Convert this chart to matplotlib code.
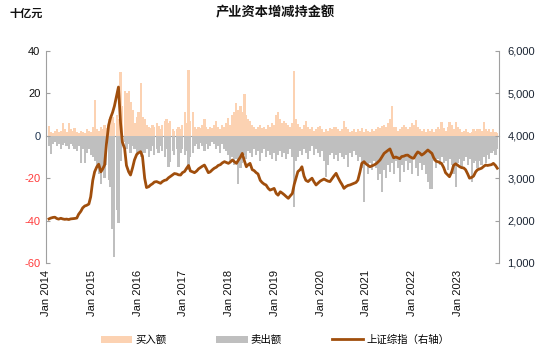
import numpy as np
import pandas as pd
import matplotlib
matplotlib.use('Agg')
import matplotlib.pyplot as plt
from matplotlib.ticker import FuncFormatter

plt.rcParams['font.family'] = ['Liberation Sans', 'Noto Sans CJK SC']

# semi-monthly data, Jan 2014 - May 2023 (10 bi-weekly points for 2023)
buy = (
    [4.5, 2, 1.5, 2.5, 3, 2, 2.5, 6, 3, 2, 6, 3, 2.5, 3.5, 2, 1.5, 2.5, 2, 1.5, 3, 2.5, 2, 4, 17]
    + [3, 2.5, 4, 3, 5, 3.5, 8, 7, 9, 6, 10, 8, 30, 14, 21, 20, 21, 16, 12, 6, 9, 11, 25, 9]
    + [8, 5, 4, 3.5, 5, 4, 6, 4.5, 3, 5, 7, 8, 6, 7, 3, 2.5, 3, 4, 3, 5, 11, 6, 31, 7]
    + [11, 4, 3, 4, 3.5, 5, 7.8, 4, 3, 4, 3.5, 5, 7, 4, 3, 5, 4, 6, 8.6, 5, 10, 11, 15.7, 12]
    + [14, 11, 19.6, 10, 8, 7, 5, 4, 3, 4, 5, 3.5, 4, 3, 5, 4, 6, 5, 10, 11, 8, 6, 7, 6]
    + [5, 4, 6, 30.7, 8, 5.5, 4, 3, 5, 7, 4, 3, 4, 2.5, 3, 4, 4.7, 3, 2, 3, 2.5, 3.5, 3, 4]
    + [4, 3, 2.5, 3, 7, 4, 3, 2, 2.5, 3, 2, 3, 2.5, 3.5, 2, 3, 2.5, 2, 3, 2.5, 3, 4, 3.5, 4.7]
    + [5, 4, 6, 8, 14, 4, 4, 2.5, 3, 4, 5, 4, 3, 4, 6, 5, 7.4, 4, 3, 2.5, 3, 2, 3, 2.5]
    + [3, 2, 3, 4, 3, 6.3, 3.5, 2.5, 4, 6.6, 5, 3, 6.6, 4, 3, 2, 2.5, 3, 2, 1.5, 2, 3, 2.5, 3]
    + [3, 2.5, 6.6, 3, 2.5, 3, 2, 3, 2, 1.5]
)

sell = (
    [-5, -8.4, -4, -3, -5, -4, -6, -4.5, -3.5, -5, -6, -4, -5, -6, -7, -5, -13, -6, -13, -8, -6, -9, -10, -12]
    + [-15, -18, -22.6, -16, -20, -14, -21, -24, -44, -57, -35, -41, -12, -5, -3, -6, -4, -8, -5, -6, -9, -7, -10, -8]
    + [-8, -6, -10, -7, -5, -9, -6, -8, -5, -7, -10, -6, -14.8, -12.4, -7, -9, -6, -14.7, -8, -6, -9, -7, -16.3, -10]
    + [-8, -5, -4, -6, -3.5, -5, -7, -4, -6, -5, -3, -4, -6, -5, -8, -4, -6, -7, -9, -12, -10, -14, -11, -22.6]
    + [-15, -13, -9, -11, -7, -8, -10, -6, -9, -7, -12, -8, -6, -10, -7, -9, -11, -8, -12, -9, -7, -10, -8, -11]
    + [-8.4, -6, -10, -33.6, -12, -10, -7, -9, -6, -8, -11, -7, -5, -9, -6, -8, -10, -7, -12, -19.5, -14, -9, -8, -11]
    + [-9, -12, -8, -10, -11, -9, -14.7, -8, -10, -7, -9, -12, -10, -15, -31.2, -14, -18, -13, -16, -12, -15, -21, -18, -26.5]
    + [-16, -20, -14, -17, -13, -18, -12, -15, -21.8, -14, -17, -12, -16, -13, -18, -11, -15, -19, -13, -16, -14, -18, -22, -25]
    + [-25, -12, -15, -11, -14, -10, -13, -12, -16, -11, -14, -18, -24, -13, -11, -15, -12, -10, -14, -11, -21.8, -13, -12, -15]
    + [-12, -14, -10, -13, -9, -11, -8, -7, -9, -6]
)

sh_index = (
    [2040, 2060, 2075, 2080, 2050, 2035, 2055, 2040, 2030, 2035, 2025, 2040, 2045, 2050, 2060, 2150, 2220, 2300, 2345, 2360, 2390, 2560, 2950, 3150]
    + [3270, 3330, 3150, 3220, 3310, 3800, 4250, 4420, 4550, 4700, 4950, 5150, 4300, 3850, 3700, 3300, 3150, 3075, 3250, 3430, 3560, 3600, 3625, 3520]
    + [3000, 2780, 2800, 2840, 2870, 2910, 2920, 2900, 2880, 2920, 2950, 2960, 3010, 3040, 3080, 3110, 3100, 3080, 3075, 3130, 3160, 3230, 3300, 3170]
    + [3150, 3130, 3170, 3220, 3250, 3280, 3310, 3230, 3130, 3150, 3200, 3235, 3260, 3300, 3320, 3360, 3390, 3370, 3350, 3380, 3430, 3390, 3350, 3420]
    + [3500, 3585, 3400, 3270, 3320, 3350, 3200, 3180, 3130, 3100, 2950, 2900, 2860, 2840, 2760, 2720, 2740, 2760, 2640, 2600, 2680, 2650, 2610, 2570]
    + [2525, 2580, 2640, 2850, 3000, 3155, 3200, 3270, 3050, 2950, 2920, 2960, 3000, 2920, 2840, 2880, 2930, 2955, 2980, 2955, 2930, 2920, 2990, 3050]
    + [3115, 3020, 2920, 2850, 2760, 2800, 2830, 2840, 2860, 2880, 2900, 2955, 3150, 3350, 3390, 3340, 3300, 3270, 3290, 3310, 3340, 3380, 3430, 3500]
    + [3585, 3620, 3660, 3690, 3580, 3480, 3500, 3480, 3460, 3510, 3520, 3540, 3545, 3510, 3480, 3470, 3560, 3620, 3590, 3545, 3580, 3620, 3665, 3630]
    + [3585, 3480, 3400, 3390, 3370, 3350, 3250, 3130, 3080, 3035, 3150, 3300, 3340, 3310, 3270, 3250, 3240, 3200, 3100, 3000, 3020, 3050, 3150, 3200]
    + [3220, 3235, 3280, 3310, 3300, 3310, 3320, 3350, 3300, 3235]
)

dates = pd.date_range('2014-01-01', periods=len(buy), freq='SMS')
years = list(range(2014, 2024))
year_labels = ['Jan %d' % y for y in years]

buy_color = '#FCD2B2'
sell_color = '#BFBFBF'
line_color = '#A04E0C'
axis_grey = '#A0A0A0'

fig = plt.figure(figsize=(5.5, 3.54), dpi=100)
ax = fig.add_axes([46 / 550, 1 - 263 / 354, 453 / 550, 212 / 354])

ax.bar(dates, buy, width=16.5, color=buy_color, linewidth=0, label='买入额')
ax.bar(dates, sell, width=16.5, color=sell_color, linewidth=0, label='卖出额')
ax.set_ylim(-60, 40)
ax.set_xlim(pd.Timestamp('2014-01-01'), pd.Timestamp('2023-05-28'))

yt = [-60, -40, -20, 0, 20, 40]
ax.set_yticks(yt, labels=[str(v) for v in yt])
for lbl, v in zip(ax.get_yticklabels(), yt):
    lbl.set_color('#FF3B3B' if v < 0 else ('#1F3550' if v == 0 else '#111111'))
ax.tick_params(axis='y', direction='in', length=3, color=axis_grey, labelsize=8, pad=4)

# year labels under the plot (placed as in the source chart)
label_pos = [pd.Timestamp('2014-01-01') + pd.Timedelta(days=-23 + 349.3 * k) for k in range(len(years))]
ax.set_xticks(label_pos, labels=year_labels, rotation=90)
ax.tick_params(axis='x', length=0, labelsize=8, pad=5, labelcolor='#111111')

for s in ['top', 'bottom', 'right']:
    ax.spines[s].set_visible(False)
ax.spines['left'].set_color(axis_grey)

# zero line with year ticks
zero = ax.secondary_xaxis(0.6)
zero.set_xticks([pd.Timestamp('%d-01-01' % y) for y in years], labels=[''] * len(years))
zero.tick_params(direction='out', length=3, color='#808080')
for s in ['top', 'bottom']:
    zero.spines[s].set_color(axis_grey)

ax2 = ax.twinx()
ax2.plot(dates, sh_index, color=line_color, linewidth=2.0, label='上证综指（右轴）')
ax2.set_ylim(1000, 6000)
ax2.set_yticks([1000, 2000, 3000, 4000, 5000, 6000])
ax2.yaxis.set_major_formatter(FuncFormatter(lambda v, p: f'{v:,.0f}'))
ax2.tick_params(axis='y', direction='in', length=3, color=axis_grey, labelsize=8,
                labelcolor='#1A2433', pad=6)
for s in ['top', 'bottom', 'left']:
    ax2.spines[s].set_visible(False)
ax2.spines['right'].set_color(axis_grey)
ax2.set_xlim(ax.get_xlim())

fig.text(0.5, 1 - 13 / 354, '产业资本增减持金额', ha='center', va='center',
         fontsize=9.5, fontweight='bold', color='#111111')
fig.text(10 / 550, 1 - 14 / 354, '十亿元', ha='left', va='center',
         fontsize=8, fontweight='bold', color='#111111')

h1, l1 = ax.get_legend_handles_labels()
h2, l2 = ax2.get_legend_handles_labels()
fig.legend(h1 + h2, l1 + l2, loc='center', bbox_to_anchor=(0.5, 1 - 340 / 354), ncol=3,
           frameon=False, fontsize=7.5, handlelength=3.0, handleheight=0.65,
           columnspacing=4.8, handletextpad=0.3)

fig.savefig('out.png', dpi=100)
